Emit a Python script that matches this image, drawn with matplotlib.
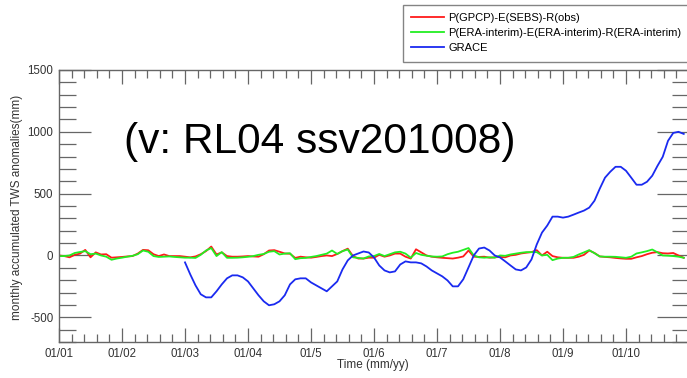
import numpy as np
import matplotlib
matplotlib.use('Agg')
import matplotlib.pyplot as plt
from matplotlib.ticker import MultipleLocator, FixedLocator

plt.rcParams['font.family'] = ['Liberation Sans', 'DejaVu Sans']
plt.rcParams['axes.unicode_minus'] = False

# monthly values, Jan 2001 .. Dec 2010 (mm)
red_obs = [0, -5, -15, 5, 15, 45, -15, 25, 8, 10, -18, -15,
           -12, -8, -5, 15, 45, 42, 10, -5, 8, -5, -5, -5,
           -10, -15, -8, 10, 35, 72, 8, 25, -5, -10, -10, -8,
           -5, -8, -10, 10, 40, 43, 30, 16, 14, -20, -10, -15,
           -18, -12, -5, 0, -5, 12, 35, 55, -5, -25, -25, -18,
           -18, 5, -10, 0, 15, 15, -10, -25, 50, 25, 0, -10,
           -15, -19, -22, -25, -18, -8, 40, -10, -12, -10, -18, -15,
           -12, -15, 0, 5, 16, 22, 27, 43, 0, 30, -5, -15,
           -19, -19, -19, -10, 5, 40, 20, -8, -12, -15, -20, -24,
           -27, -27, -15, -5, 10, 22, 27, 18, 16, 20, 0, -19]

green_era = [-5, -5, 0, 20, 28, 35, 10, 15, 0, -10, -35, -25,
             -18, -10, -3, 10, 40, 30, -5, -12, -10, -8, -12, -15,
             -18, -18, -20, 5, 40, 60, -5, 27, -19, -19, -18, -15,
             -11, -5, 5, 12, 30, 35, 8, 15, 18, -30, -22, -20,
             -12, -5, 5, 15, 40, 12, 35, 48, -15, -20, -25, -8,
             -5, 12, -5, 10, 25, 30, 15, -18, 20, 5, -2, -8,
             -10, -8, 10, 22, 30, 45, 60, 0, -15, -18, -15, -18,
             0, -3, 8, 15, 22, 27, 27, 27, 0, 5, -38, -25,
             -19, -19, -12, 8, 25, 43, 18, -8, -10, -10, -11, -15,
             -19, -10, 16, 25, 35, 48, 25, 0, -2, -5, -10, -19]

# GRACE, Jan 2003 .. Dec 2010 (mm)
grace = [-56, -153, -242, -314, -339, -339, -290, -234, -185, -161, -161, -177,
         -210, -266, -322, -371, -403, -395, -371, -322, -234, -193, -185, -185,
         -218, -242, -266, -290, -250, -210, -113, -40, 0, 16, 32, 24,
         -16, -81, -121, -137, -129, -73, -48, -56, -56, -64, -89, -121,
         -145, -169, -202, -250, -250, -193, -97, 0, 56, 64, 40, 0,
         -16, -48, -81, -113, -121, -97, -32, 89, 185, 242, 314, 314,
         306, 314, 330, 347, 363, 387, 443, 540, 629, 677, 717, 717,
         685, 629, 572, 572, 596, 645, 725, 798, 927, 991, 1000, 983]

year_labels = ['01/01', '01/02', '01/03', '01/04', '01/5',
               '01/6', '01/7', '01/8', '01/9', '01/10']

t_all = np.arange(len(red_obs)) / 12.0
t_grace = 2 + np.arange(len(grace)) / 12.0

W, H = 687, 378
fig = plt.figure(figsize=(W / 100, H / 100), dpi=100)
ax = fig.add_axes([59 / W, 1 - 342 / H, 630 / W, 272 / H])

ax.plot(t_all, red_obs, color='#ff1a1a', lw=1.3, label='P(GPCP)-E(SEBS)-R(obs)')
ax.plot(t_all, green_era, color='#22ee22', lw=1.3,
        label='P(ERA-interim)-E(ERA-interim)-R(ERA-interim)')
ax.plot(t_grace, grace, color='#1a2af0', lw=1.3, label='GRACE')

ax.set_xlim(0, 10)
ax.set_ylim(-700, 1500)

ax.xaxis.set_major_locator(FixedLocator(np.arange(0, 11)))
ax.xaxis.set_minor_locator(MultipleLocator(0.2))
ax.set_xticklabels(year_labels + [''])
ax.yaxis.set_major_locator(FixedLocator([-500, 0, 500, 1000, 1500]))
ax.yaxis.set_minor_locator(MultipleLocator(100))

gray = '#666666'
for s in ax.spines.values():
    s.set_color(gray)
    s.set_linewidth(1.0)
ax.spines['right'].set_visible(False)

ax.tick_params(axis='x', which='major', direction='in', length=10, width=0.9,
               color=gray, top=True, labelsize=8.3, labelcolor='#333333', pad=4)
ax.tick_params(axis='x', which='minor', direction='in', length=5.5, width=0.9,
               color=gray, top=True)
ax.tick_params(axis='y', which='major', direction='in', length=23, width=0.9,
               color=gray, right=True, labelsize=8.3, labelcolor='#333333', pad=4)
ax.tick_params(axis='y', which='minor', direction='in', length=12, width=0.9,
               color=gray, right=True)

fig.text(17 / W, 1 - 207 / H, 'monthly accumulated TWS anomalies(mm)',
         rotation=90, ha='center', va='center', fontsize=8.5, color='#333333')
fig.text(373 / W, 1 - 365 / H, 'Time (mm/yy)', ha='center', va='center',
         fontsize=8.5, color='#333333')
fig.text(124 / W, 1 - 153 / H, '(v: RL04 ssv201008)', ha='left', va='baseline',
         fontsize=30.6, color='black')

leg = fig.legend(loc='upper left', bbox_to_anchor=(403 / W, 1 - 5 / H),
                 borderaxespad=0, fancybox=False, fontsize=8, handlelength=2.9,
                 handletextpad=0.45, labelspacing=0.45, borderpad=0.75)
leg.get_frame().set_edgecolor(gray)
leg.get_frame().set_linewidth(1.0)

plt.savefig('out.png', dpi=100)
